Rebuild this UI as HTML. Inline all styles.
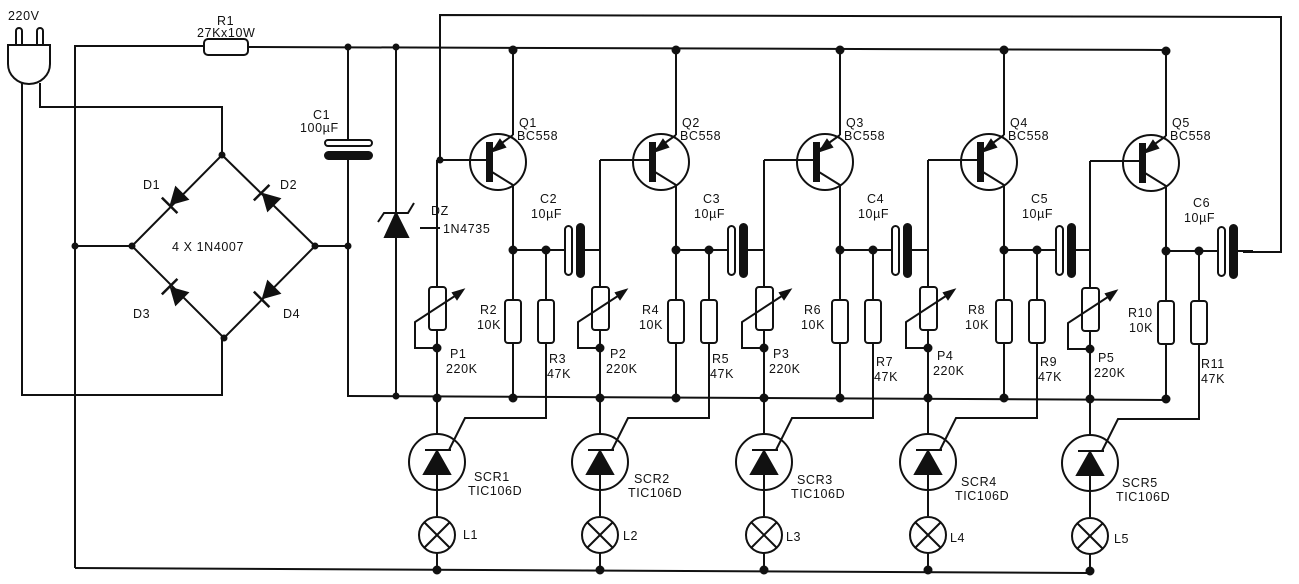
<!DOCTYPE html>
<html><head><meta charset="utf-8"><style>
html,body{margin:0;padding:0;background:#fff;}
svg{display:block;}
text{font-family:"Liberation Sans",sans-serif;font-size:12.5px;fill:#111;letter-spacing:0.6px;}
</style></head><body>
<svg width="1299" height="584" viewBox="0 0 1299 584" xmlns="http://www.w3.org/2000/svg">
<defs>
<g id="stage" stroke="#111" stroke-width="2" fill="none">
  <line x1="0" y1="50" x2="0" y2="135"/>
  <line x1="0" y1="135" x2="-21" y2="150"/>
  <polygon points="-20,151 -13,140 -8,147" fill="#111"/>
  <line x1="-21" y1="172" x2="0" y2="185"/>
  <line x1="0" y1="185" x2="0" y2="398"/>
  <rect x="-27" y="142" width="7" height="40" fill="#111" stroke="none"/>
  <circle cx="-15" cy="162" r="28"/>
  <line x1="-76" y1="160" x2="-27" y2="160"/>
  <line x1="0" y1="250" x2="52" y2="250"/>
  <rect x="52" y="226" width="7" height="49" rx="3.5"/>
  <rect x="64" y="224" width="7" height="53" rx="3.5" fill="#111"/>
  <line x1="71" y1="250" x2="87" y2="250"/>
  <circle cx="0" cy="250" r="3.5" fill="#111"/>
  <circle cx="33" cy="250" r="3.5" fill="#111"/>
  <rect x="-8" y="300" width="16" height="43" rx="3" fill="#fff"/>
  <line x1="33" y1="250" x2="33" y2="300"/>
  <rect x="25" y="300" width="16" height="43" rx="3" fill="#fff"/>
  <polyline points="33,343 33,418 -48,418 -64,450"/>
  <line x1="-76" y1="160" x2="-76" y2="287"/>
  <rect x="-84" y="287" width="17" height="43" rx="3" fill="#fff"/>
  <line x1="-76" y1="330" x2="-76" y2="434"/>
  <polyline points="-76,348 -98,348 -98,322 -52,292"/>
  <polygon points="-50,290 -60,293 -56,299" fill="#111"/>
  <circle cx="-76" cy="348" r="3.5" fill="#111"/>
  <circle cx="-76" cy="398" r="3.5" fill="#111"/>
  <circle cx="0" cy="398" r="3.5" fill="#111"/>
  <circle cx="0" cy="50" r="3.5" fill="#111"/>
  <circle cx="-76" cy="462" r="28"/>
  <line x1="-88" y1="450" x2="-62" y2="450"/>
  <polygon points="-76,451 -89,474 -63,474" fill="#111"/>
  <line x1="-76" y1="474" x2="-76" y2="516"/>
  <circle cx="-76" cy="535" r="18"/>
  <line x1="-89" y1="522" x2="-63" y2="548"/>
  <line x1="-63" y1="522" x2="-89" y2="548"/>
  <line x1="-76" y1="553" x2="-76" y2="570"/>
  <circle cx="-76" cy="570" r="3.5" fill="#111"/>
</g>
<g id="diode" stroke="#111" stroke-width="2.5">
  <polygon points="-9,-10 -9,10 9,0" fill="#111" stroke="none"/>
  <line x1="9" y1="-11" x2="9" y2="11"/>
</g>
</defs>

<g stroke="#111" stroke-width="2" fill="none">
  <path d="M8,45 H50 V64 A21,20 0 0 1 8,64 Z"/>
  <path d="M16,45 V31 A3,3 0 0 1 22,31 V45"/>
  <path d="M37,45 V31 A3,3 0 0 1 43,31 V45"/>
  <polyline points="22,83 22,395 222,395 222,338"/>
  <polyline points="40,83 40,107 222,107 222,155"/>
  <polyline points="75,568 75,46 204,46"/>
  <rect x="204" y="39" width="44" height="16" rx="4"/>
  <line x1="248" y1="47" x2="1166" y2="50"/>
  <polygon points="222,155 315,246 224,338 132,246"/>
  <line x1="75" y1="246" x2="132" y2="246"/>
  <line x1="315" y1="246" x2="348" y2="246"/>
  <line x1="348" y1="47" x2="348" y2="140"/>
  <rect x="325" y="140" width="47" height="6" rx="3"/>
  <rect x="325" y="152" width="47" height="7" rx="3.5" fill="#111"/>
  <line x1="348" y1="159" x2="348" y2="397"/>
  <line x1="396" y1="47" x2="396" y2="397"/>
  <polygon points="396,213 385,237 408,237" fill="#111"/>
  <polyline points="378,222 384,213 408,213 414,203"/>
  <line x1="420" y1="228" x2="440" y2="228"/>
  <line x1="348" y1="396" x2="1166" y2="400"/>
  <line x1="75" y1="568" x2="1088" y2="573"/>
  <polyline points="440,160 440,15 1281,17 1281,252 1243,252"/>
</g>
<g fill="#111">
  <circle cx="222" cy="155" r="3.5"/><circle cx="315" cy="246" r="3.5"/>
  <circle cx="224" cy="338" r="3.5"/><circle cx="132" cy="246" r="3.5"/>
  <circle cx="75" cy="246" r="3.5"/><circle cx="348" cy="246" r="3.5"/>
  <circle cx="348" cy="47" r="3.5"/><circle cx="396" cy="47" r="3.5"/>
  <circle cx="396" cy="396" r="3.5"/><circle cx="440" cy="160" r="3.5"/>
</g>
<use href="#diode" transform="translate(176,199) rotate(135)"/>
<use href="#diode" transform="translate(268,199) rotate(225)"/>
<use href="#diode" transform="translate(176,293) rotate(225)"/>
<use href="#diode" transform="translate(268,293) rotate(135)"/>

<use href="#stage" transform="translate(513,0)"/>
<use href="#stage" transform="translate(676,0)"/>
<use href="#stage" transform="translate(840,0)"/>
<use href="#stage" transform="translate(1004,0)"/>
<use href="#stage" transform="translate(1166,1)"/>

<text x="8" y="20">220V</text>
<text x="217" y="25">R1</text>
<text x="197" y="37">27Kx10W</text>
<text x="313" y="119">C1</text>
<text x="300" y="132">100µF</text>
<text x="143" y="189">D1</text>
<text x="280" y="189">D2</text>
<text x="133" y="318">D3</text>
<text x="283" y="318">D4</text>
<text x="172" y="251">4 X 1N4007</text>
<text x="431" y="215">DZ</text>
<text x="443" y="233">1N4735</text>

<text x="519" y="127">Q1</text><text x="517" y="140">BC558</text>
<text x="682" y="127">Q2</text><text x="680" y="140">BC558</text>
<text x="846" y="127">Q3</text><text x="844" y="140">BC558</text>
<text x="1010" y="127">Q4</text><text x="1008" y="140">BC558</text>
<text x="1172" y="127">Q5</text><text x="1170" y="140">BC558</text>

<text x="540" y="203">C2</text><text x="531" y="218">10µF</text>
<text x="703" y="203">C3</text><text x="694" y="218">10µF</text>
<text x="867" y="203">C4</text><text x="858" y="218">10µF</text>
<text x="1031" y="203">C5</text><text x="1022" y="218">10µF</text>
<text x="1193" y="207">C6</text><text x="1184" y="222">10µF</text>

<text x="480" y="314">R2</text><text x="477" y="329">10K</text>
<text x="642" y="314">R4</text><text x="639" y="329">10K</text>
<text x="804" y="314">R6</text><text x="801" y="329">10K</text>
<text x="968" y="314">R8</text><text x="965" y="329">10K</text>
<text x="1128" y="317">R10</text><text x="1129" y="332">10K</text>

<text x="549" y="363">R3</text><text x="547" y="378">47K</text>
<text x="712" y="363">R5</text><text x="710" y="378">47K</text>
<text x="876" y="366">R7</text><text x="874" y="381">47K</text>
<text x="1040" y="366">R9</text><text x="1038" y="381">47K</text>
<text x="1201" y="368">R11</text><text x="1201" y="383">47K</text>

<text x="450" y="358">P1</text><text x="446" y="373">220K</text>
<text x="610" y="358">P2</text><text x="606" y="373">220K</text>
<text x="773" y="358">P3</text><text x="769" y="373">220K</text>
<text x="937" y="360">P4</text><text x="933" y="375">220K</text>
<text x="1098" y="362">P5</text><text x="1094" y="377">220K</text>

<text x="474" y="481">SCR1</text><text x="468" y="495">TIC106D</text>
<text x="634" y="483">SCR2</text><text x="628" y="497">TIC106D</text>
<text x="797" y="484">SCR3</text><text x="791" y="498">TIC106D</text>
<text x="961" y="486">SCR4</text><text x="955" y="500">TIC106D</text>
<text x="1122" y="487">SCR5</text><text x="1116" y="501">TIC106D</text>

<text x="463" y="539">L1</text>
<text x="623" y="540">L2</text>
<text x="786" y="541">L3</text>
<text x="950" y="542">L4</text>
<text x="1114" y="543">L5</text>
</svg>
</body></html>
